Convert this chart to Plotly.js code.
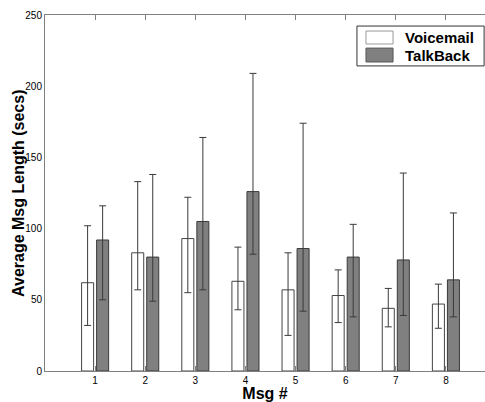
<!DOCTYPE html>
<html>
<head>
<meta charset="utf-8">
<script src="https://cdn.plot.ly/plotly-3.0.1.min.js"></script>
<style>html,body{margin:0;padding:0;background:#fff;}#chart{width:485px;height:402px;}</style>
</head>
<body>
<div id="chart"></div>
<script>
const msgs = [1, 2, 3, 4, 5, 6, 7, 8];
const seriesNames = ['Voicemail', 'TalkBack'];
const voicemail = [62, 83, 93, 63, 57, 53, 44, 47];
const voicemailUpper = [102, 133, 122, 87, 83, 71, 58, 61];
const voicemailLower = [32, 57, 55, 43, 25, 34, 31, 30];
const talkback = [92, 80, 105, 126, 86, 80, 78, 64];
const talkbackUpper = [116, 138, 164, 209, 174, 103, 139, 111];
const talkbackLower = [50, 49, 57, 82, 42, 38, 39, 38];

const plus = (hi, v) => hi.map((h, i) => h - v[i]);
const minus = (lo, v) => v.map((x, i) => x - lo[i]);

const errStyle = {color: '#3a3a3a', thickness: 1, width: 3.5, visible: true, type: 'data', symmetric: false};
const fills = ['#ffffff', '#808080'];
const outlines = ['#444444', '#3a3a3a'];

const traces = [
  {
    type: 'bar', name: seriesNames[0], x: msgs, y: voicemail,
    width: 0.24, offset: -0.27,
    marker: {color: fills[0], line: {color: outlines[0], width: 1}},
    error_y: Object.assign({array: plus(voicemailUpper, voicemail), arrayminus: minus(voicemailLower, voicemail)}, errStyle)
  },
  {
    type: 'bar', name: seriesNames[1], x: msgs, y: talkback,
    width: 0.24, offset: 0.03,
    marker: {color: fills[1], line: {color: outlines[1], width: 1}},
    error_y: Object.assign({array: plus(talkbackUpper, talkback), arrayminus: minus(talkbackLower, talkback)}, errStyle)
  }
];

// custom legend (wide swatches like the original)
const lgBox = {x0: 0.709, x1: 0.998, y0: 0.857, y1: 0.969};
const swY = [[0.9185, 0.955], [0.868, 0.907]];
const txtY = [0.938, 0.8876];
const shapes = [
  {type: 'rect', xref: 'paper', yref: 'paper', x0: lgBox.x0, x1: lgBox.x1, y0: lgBox.y0, y1: lgBox.y1,
   line: {color: '#333333', width: 1}, fillcolor: '#ffffff'}
];
const annotations = [];
seriesNames.forEach((n, i) => {
  shapes.push({type: 'rect', xref: 'paper', yref: 'paper', x0: 0.7295, x1: 0.791, y0: swY[i][0], y1: swY[i][1],
    line: {color: i === 0 ? '#999999' : '#555555', width: 1}, fillcolor: fills[i]});
  annotations.push({xref: 'paper', yref: 'paper', x: 0.8136, y: txtY[i], xanchor: 'left', yanchor: 'middle',
    text: '<b>' + n + '</b>', showarrow: false, font: {size: 15, color: '#000'}});
});
annotations.push({xref: 'paper', yref: 'paper', x: -0.0614, y: 0.5, xanchor: 'center', yanchor: 'middle',
  textangle: -90, text: '<b>Average Msg Length (secs)</b>', showarrow: false, font: {size: 16, color: '#000'}});

const layout = {
  width: 485, height: 402,
  margin: {l: 45, r: 0, t: 15, b: 31},
  paper_bgcolor: '#ffffff', plot_bgcolor: '#ffffff',
  font: {family: 'Liberation Sans, Arial, sans-serif', color: '#000000', size: 10},
  showlegend: false,
  shapes: shapes,
  annotations: annotations,
  xaxis: {
    range: [0, 8.78], tickvals: msgs, ticktext: msgs.map(String),
    ticks: 'inside', ticklen: 5, tickcolor: '#808080',
    showline: true, linecolor: '#808080', linewidth: 1, mirror: 'ticks',
    showgrid: false, zeroline: false,
    tickfont: {size: 10, color: '#000'},
    title: {text: '<b>Msg #</b>', font: {size: 16}, standoff: 9}
  },
  yaxis: {
    range: [0, 250], tickvals: [0, 50, 100, 150, 200, 250],
    ticks: 'inside', ticklen: 0, tickcolor: '#808080',
    showline: true, linecolor: '#808080', linewidth: 1, mirror: true,
    showgrid: false, zeroline: false,
    tickfont: {size: 10, color: '#000'}
  },
  bargap: 0
};

Plotly.newPlot('chart', traces, layout, {displayModeBar: false, staticPlot: true});
</script>
</body>
</html>
